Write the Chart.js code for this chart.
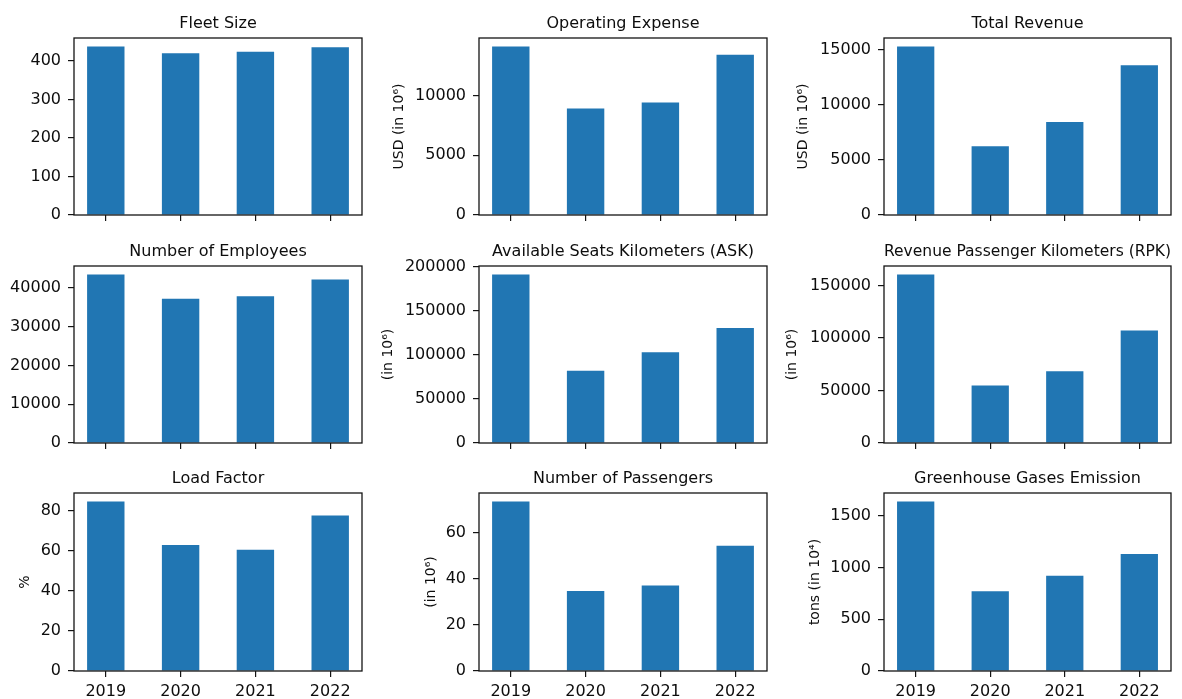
<!DOCTYPE html>
<html>
<head>
<meta charset="utf-8">
<script src="https://cdn.jsdelivr.net/npm/chart.js@4.4.1/dist/chart.umd.min.js"></script>
<style>
  html, body { margin: 0; padding: 0; background: #fff; width: 1182px; height: 699px; overflow: hidden; }
  #fig { position: relative; width: 1182px; height: 699px; }
  #fig canvas { position: absolute; }
</style>
</head>
<body>
<div id="fig"></div>
<script>
// ---- data ----
const years = ['2019', '2020', '2021', '2022'];

const fleetSize        = [438, 420, 424, 436];
const operatingExpense = [14100, 8900, 9400, 13400];
const totalRevenue     = [15300, 6250, 8450, 13600];
const employees        = [43500, 37200, 37900, 42200];
const askValues        = [191500, 82000, 103000, 130500];
const rpkValues        = [160500, 54700, 68300, 107000];
const loadFactor       = [84.8, 63.0, 60.6, 77.8];
const passengers       = [73.7, 34.8, 37.2, 54.4];
const ghgEmission      = [1640, 772, 922, 1132];

// ---- y tick labels ----
const fleetTicks      = [0, 100, 200, 300, 400];
const opexTicks       = [0, 5000, 10000];
const revenueTicks    = [0, 5000, 10000, 15000];
const employeeTicks   = [0, 10000, 20000, 30000, 40000];
const askTicks        = [0, 50000, 100000, 150000, 200000];
const rpkTicks        = [0, 50000, 100000, 150000];
const loadTicks       = [0, 20, 40, 60, 80];
const passengerTicks  = [0, 20, 40, 60];
const ghgTicks        = [0, 500, 1000, 1500];

// ---- panel grid (plot-area edges in page pixels) ----
const colLeft   = [74, 479, 884];
const colRight  = [362, 767, 1171];
const rowTop    = [38, 266, 493];
const rowBottom = [215, 443, 671];

const panels = [
  { title: 'Fleet Size',                          yLabel: '',              values: fleetSize,        ticks: fleetTicks,     row: 0, col: 0, gap: 0  },
  { title: 'Operating Expense',                   yLabel: 'USD (in 10⁶)',  values: operatingExpense, ticks: opexTicks,      row: 0, col: 1, gap: 80 },
  { title: 'Total Revenue',                       yLabel: 'USD (in 10⁶)',  values: totalRevenue,     ticks: revenueTicks,   row: 0, col: 2, gap: 81 },
  { title: 'Number of Employees',                 yLabel: '',              values: employees,        ticks: employeeTicks,  row: 1, col: 0, gap: 0  },
  { title: 'Available Seats Kilometers (ASK)',    yLabel: '(in 10⁶)',      values: askValues,        ticks: askTicks,       row: 1, col: 1, gap: 91 },
  { title: 'Revenue Passenger Kilometers (RPK)',  yLabel: '(in 10⁶)',      values: rpkValues,        ticks: rpkTicks,       row: 1, col: 2, gap: 92 },
  { title: 'Load Factor',                         yLabel: '%',             values: loadFactor,       ticks: loadTicks,      row: 2, col: 0, gap: 49 },
  { title: 'Number of Passengers',                yLabel: '(in 10⁶)',      values: passengers,       ticks: passengerTicks, row: 2, col: 1, gap: 48 },
  { title: 'Greenhouse Gases Emission',           yLabel: 'tons (in 10⁴)', values: ghgEmission,      ticks: ghgTicks,       row: 2, col: 2, gap: 69 }
];

Chart.defaults.font.family = "'DejaVu Sans', sans-serif";
Chart.defaults.color = '#0d0d0d';

const INK = '#141414';
const BAR = '#2176b3';
const TEXT = '#0d0d0d';
const TITLE_H = 34;
const TITLE_TOP = 10.5;
const RIGHT_PAD = 6;
const YLABEL_SIZE = 14;

// axes frame on all four sides, drawn over the bars
const framePlugin = {
  id: 'frame',
  afterDatasetsDraw(chart) {
    const { ctx, chartArea: a } = chart;
    ctx.save();
    ctx.strokeStyle = INK;
    ctx.lineWidth = 1.3;
    ctx.strokeRect(a.left, a.top, a.right - a.left, a.bottom - a.top);
    ctx.restore();
  }
};

const fig = document.getElementById('fig');

panels.forEach(p => {
  const L = colLeft[p.col], R = colRight[p.col];
  const T = rowTop[p.row], B = rowBottom[p.row];
  const lastRow = p.row === 2;
  const yW = p.gap ? Math.round(p.gap + YLABEL_SIZE * 0.6) : L;
  const xH = lastRow ? 28 : 18;
  const cx = L - yW;
  const cy = T - TITLE_H;
  const cw = R - cx + RIGHT_PAD;
  const ch = B - cy + xH;

  const canvas = document.createElement('canvas');
  canvas.width = cw; canvas.height = ch;
  canvas.style.left = cx + 'px'; canvas.style.top = cy + 'px';
  canvas.style.width = cw + 'px'; canvas.style.height = ch + 'px';
  fig.appendChild(canvas);

  const yMax = Math.max(...p.values) * 1.05;

  new Chart(canvas, {
    type: 'bar',
    data: {
      datasets: [{
        data: p.values.map((v, i) => ({ x: i, y: v })),
        backgroundColor: BAR,
        borderWidth: 0,
        barPercentage: 0.5,
        categoryPercentage: 1.0
      }]
    },
    plugins: [framePlugin],
    options: {
      responsive: false,
      animation: false,
      devicePixelRatio: 1,
      layout: { padding: { left: 0, right: RIGHT_PAD, top: 0, bottom: 0 } },
      plugins: {
        legend: { display: false },
        tooltip: { enabled: false },
        title: {
          display: true,
          text: p.title,
          fullSize: false,
          color: TEXT,
          font: { size: 16, weight: 'normal' },
          padding: { top: TITLE_TOP, bottom: TITLE_H - TITLE_TOP - 19.2 }
        }
      },
      scales: {
        x: {
          type: 'linear',
          min: -0.425,
          max: 3.425,
          offset: false,
          afterBuildTicks: s => { s.ticks = years.map((_, i) => ({ value: i })); },
          afterFit: s => { s.height = xH; },
          ticks: {
            display: lastRow,
            padding: 5,
            maxRotation: 0,
            autoSkip: false,
            font: { size: 16 },
            color: TEXT,
            callback: v => years[v]
          },
          grid: {
            display: true,
            offset: false,
            drawOnChartArea: false,
            drawTicks: true,
            tickLength: 6,
            tickColor: INK,
            lineWidth: 1.2
          },
          border: { display: false }
        },
        y: {
          type: 'linear',
          min: 0,
          max: yMax,
          afterBuildTicks: s => { s.ticks = p.ticks.map(v => ({ value: v })); },
          afterFit: s => { s.width = yW; },
          ticks: {
            padding: 7,
            font: { size: 16 },
            color: TEXT,
            callback: v => String(v)
          },
          grid: {
            display: true,
            drawOnChartArea: false,
            drawTicks: true,
            tickLength: 6,
            tickColor: INK,
            lineWidth: 1.2
          },
          border: { display: false },
          title: {
            display: !!p.yLabel,
            text: p.yLabel,
            color: TEXT,
            padding: 0,
            font: { size: YLABEL_SIZE }
          }
        }
      }
    }
  });
});
</script>
</body>
</html>
